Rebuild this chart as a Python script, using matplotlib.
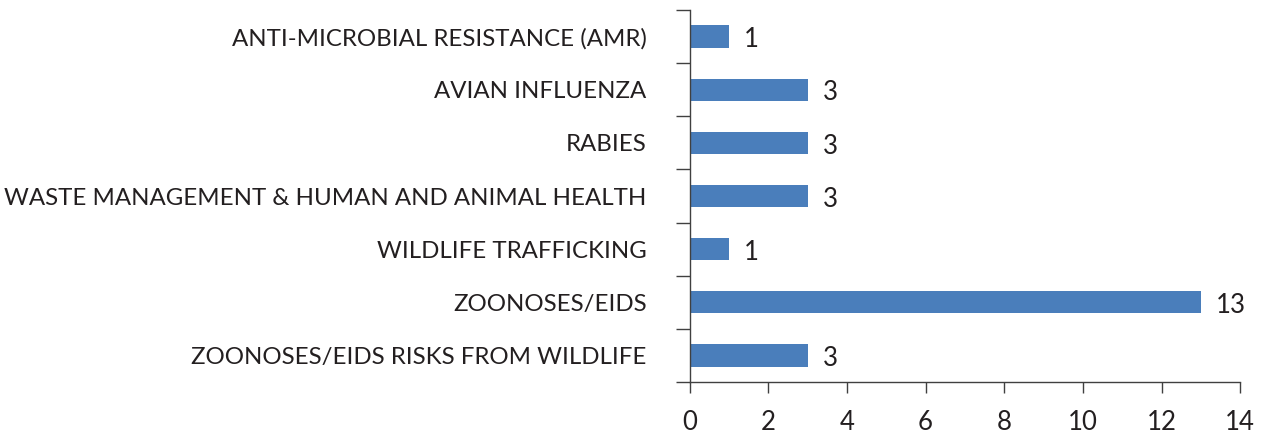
import matplotlib.pyplot as plt
import numpy as np

categories = [
    "ANTI-MICROBIAL RESISTANCE (AMR)",
    "AVIAN INFLUENZA",
    "RABIES",
    "WASTE MANAGEMENT & HUMAN AND ANIMAL HEALTH",
    "WILDLIFE TRAFFICKING",
    "ZOONOSES/EIDS",
    "ZOONOSES/EIDS RISKS FROM WILDLIFE",
]
counts = [1, 3, 3, 3, 1, 13, 3]

plt.rcParams['font.family'] = ['Lato', 'DejaVu Sans']
txt = "#231f20"
bar_color = "#4a7ebb"

fig = plt.figure(figsize=(12.64, 4.34), dpi=100)
ax = fig.add_axes([0.5455, 0.1198, 0.4357, 0.857])

y = np.arange(len(categories))
ax.barh(y, counts, height=0.42, color=bar_color)
for yi, v in zip(y, counts):
    ax.text(v + 0.38, yi + 0.06, str(v), va="center", ha="left",
            fontsize=18.5, color=txt)

ax.set_xlim(0, 14)
ax.set_ylim(len(categories) - 0.5, -0.5)
ax.set_xticks(range(0, 15, 2))
ax.tick_params(axis="x", direction="out", length=8, width=1, color="#404040",
               labelsize=18.5, labelcolor=txt, pad=12)

ax.set_yticks(y)
ax.set_yticklabels(categories)
ax.tick_params(axis="y", which="major", length=0, labelsize=17.3,
               labelcolor=txt, pad=31)
ax.set_yticks(np.arange(-0.5, len(categories), 1), minor=True)
ax.tick_params(axis="y", which="minor", direction="out", length=10,
               width=1, color="#404040")

for s in ["top", "right"]:
    ax.spines[s].set_visible(False)
for s in ["left", "bottom"]:
    ax.spines[s].set_color("#404040")
    ax.spines[s].set_linewidth(1)

fig.savefig("out.png", dpi=100)
